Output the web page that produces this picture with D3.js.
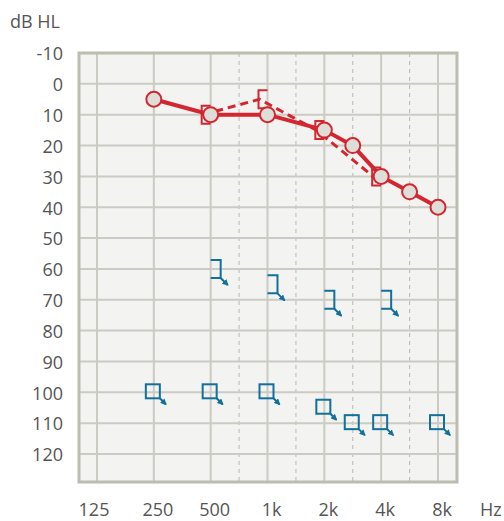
<!DOCTYPE html>
<html lang="en">
<head>
  <meta charset="UTF-8" />
  <title>Audiogram</title>
  <script src="https://d3js.org/d3.v7.min.js"></script>
  <style>
    body {
      margin: 0;
      background: #ffffff;
      font-family: 'Open Sans', sans-serif;
    }
    .label {
      font-size: 18px;
      fill: #555555;
    }
  </style>
</head>
<body>
  <div id="audiogram"></div>

  <script>
    // octave tick labels
    const octaveFreqs = [125, 250, 500, 1000, 2000, 4000, 8000];
    const octaveLabels = ["125", "250", "500", "1k", "2k", "4k", "8k"];
    const halfFreqs = [750, 1500, 3000, 6000];
    const levelTicks = [-10, 0, 10, 20, 30, 40, 50, 60, 70, 80, 90, 100, 110, 120];

    // right ear, air conduction (circles)
    const airFreqs = [250, 500, 1000, 2000, 3000, 4000, 6000, 8000];
    const airLevels = [5, 10, 10, 15, 20, 30, 35, 40];

    // right ear, masked bone conduction ([)
    const boneFreqs = [500, 1000, 2000, 4000];
    const boneLevels = [10, 5, 15, 30];

    // left ear, masked bone conduction, no response (] with arrow)
    const leftBoneFreqs = [500, 1000, 2000, 4000];
    const leftBoneLevels = [60, 65, 70, 70];

    // left ear, masked air conduction, no response (square with arrow)
    const leftAirFreqs = [250, 500, 1000, 2000, 3000, 4000, 8000];
    const leftAirLevels = [100, 100, 100, 105, 110, 110, 110];

    const red = "#d4262f";
    const blue = "#12709a";

    function drawAudiogram() {
      const width = 504, height = 521;
      const plot = { left: 79, right: 457, top: 53, bottom: 482 };

      const svg = d3.select("#audiogram")
        .append("svg")
        .attr("width", width)
        .attr("height", height);

      // intermediate frequencies sit half way between octaves
      const octaveOf = f => {
        const o = Math.log2(f / 125);
        return Number.isInteger(o) ? o : Math.floor(o) + 0.5;
      };
      const xo = d3.scaleLinear().domain([0, 6]).range([97, 438]);
      const x = f => xo(octaveOf(f));
      const y = d3.scaleLinear().domain([-10, 120]).range([plot.top, 454]);

      svg.append("rect")
        .attr("x", plot.left)
        .attr("y", plot.top)
        .attr("width", plot.right - plot.left)
        .attr("height", plot.bottom - plot.top)
        .attr("fill", "#f3f3f1");

      svg.append("g")
        .selectAll("line")
        .data(halfFreqs)
        .join("line")
        .attr("x1", d => x(d)).attr("x2", d => x(d))
        .attr("y1", plot.top).attr("y2", plot.bottom)
        .attr("stroke", "#c2c2bc")
        .attr("stroke-width", 1.2)
        .attr("stroke-dasharray", "4,4");

      svg.append("g")
        .selectAll("line")
        .data(octaveFreqs)
        .join("line")
        .attr("x1", d => x(d)).attr("x2", d => x(d))
        .attr("y1", plot.top).attr("y2", plot.bottom)
        .attr("stroke", "#cbcbc3")
        .attr("stroke-width", 2);

      svg.append("g")
        .selectAll("line")
        .data(levelTicks)
        .join("line")
        .attr("x1", plot.left).attr("x2", plot.right)
        .attr("y1", d => y(d)).attr("y2", d => y(d))
        .attr("stroke", "#cbcbc3")
        .attr("stroke-width", 2);

      svg.append("rect")
        .attr("x", plot.left)
        .attr("y", plot.top)
        .attr("width", plot.right - plot.left)
        .attr("height", plot.bottom - plot.top)
        .attr("fill", "none")
        .attr("stroke", "#bcbcb0")
        .attr("stroke-width", 3);

      // labels
      svg.append("g")
        .selectAll("text")
        .data(levelTicks)
        .join("text")
        .attr("class", "label")
        .attr("x", 63)
        .attr("y", d => y(d) + 1)
        .attr("dy", "0.35em")
        .attr("text-anchor", "end")
        .text(d => d);

      svg.append("g")
        .selectAll("text")
        .data(octaveFreqs)
        .join("text")
        .attr("class", "label")
        .attr("x", (d, i) => x(d) + (i === 0 ? -3 : 4))
        .attr("y", 516)
        .attr("text-anchor", "middle")
        .text((d, i) => octaveLabels[i]);

      svg.append("text").attr("class", "label")
        .attr("x", 480).attr("y", 516).text("Hz");
      svg.append("text").attr("class", "label")
        .attr("x", 10).attr("y", 28).text("dB HL");

      // arrow marker for no-response symbols
      svg.append("defs").append("marker")
        .attr("id", "arrow")
        .attr("viewBox", "0 0 10 10")
        .attr("refX", 8).attr("refY", 5)
        .attr("markerWidth", 3.2).attr("markerHeight", 3.2)
        .attr("orient", "auto")
        .append("path")
        .attr("d", "M0,0L10,5L0,10Z")
        .attr("fill", blue);

      // left ear bone "]" with arrow
      const lb = svg.append("g")
        .selectAll("g")
        .data(leftBoneFreqs.map((f, i) => ({ f, v: leftBoneLevels[i] })))
        .join("g")
        .attr("transform", d => `translate(${x(d.f)},${y(d.v)})`);
      lb.append("path")
        .attr("d", "M0,-9H10V9H0")
        .attr("fill", "none")
        .attr("stroke", blue)
        .attr("stroke-width", 2);
      lb.append("line")
        .attr("x1", 10).attr("y1", 9).attr("x2", 17).attr("y2", 16)
        .attr("stroke", blue).attr("stroke-width", 2)
        .attr("marker-end", "url(#arrow)");

      // left ear air square with arrow
      const la = svg.append("g")
        .selectAll("g")
        .data(leftAirFreqs.map((f, i) => ({ f, v: leftAirLevels[i] })))
        .join("g")
        .attr("transform", d => `translate(${x(d.f) - 1},${y(d.v) - 1})`);
      la.append("rect")
        .attr("x", -7).attr("y", -7)
        .attr("width", 14).attr("height", 14)
        .attr("fill", "none")
        .attr("stroke", blue)
        .attr("stroke-width", 2);
      la.append("line")
        .attr("x1", 7).attr("y1", 7).attr("x2", 13).attr("y2", 13)
        .attr("stroke", blue).attr("stroke-width", 2)
        .attr("marker-end", "url(#arrow)");

      // right ear bone, dashed line + brackets
      const boneData = boneFreqs.map((f, i) => ({ f, v: boneLevels[i] }));
      svg.append("path")
        .datum(boneData)
        .attr("d", d3.line().x(d => x(d.f) - 8).y(d => y(d.v)))
        .attr("fill", "none")
        .attr("stroke", red)
        .attr("stroke-width", 3)
        .attr("stroke-dasharray", "8,5");
      svg.append("g")
        .selectAll("path")
        .data(boneData)
        .join("path")
        .attr("transform", d => `translate(${x(d.f)},${y(d.v)})`)
        .attr("d", "M0,-9H-9V9H0")
        .attr("fill", "none")
        .attr("stroke", red)
        .attr("stroke-width", 2);

      // right ear air, solid line + circles
      const airData = airFreqs.map((f, i) => ({ f, v: airLevels[i] }));
      svg.append("path")
        .datum(airData)
        .attr("d", d3.line().x(d => x(d.f)).y(d => y(d.v)))
        .attr("fill", "none")
        .attr("stroke", red)
        .attr("stroke-width", 4);
      svg.append("g")
        .selectAll("circle")
        .data(airData)
        .join("circle")
        .attr("cx", d => x(d.f))
        .attr("cy", d => y(d.v))
        .attr("r", 7.5)
        .attr("fill", "#deded9")
        .attr("stroke", red)
        .attr("stroke-width", 2);
    }

    drawAudiogram();
  </script>
</body>
</html>
